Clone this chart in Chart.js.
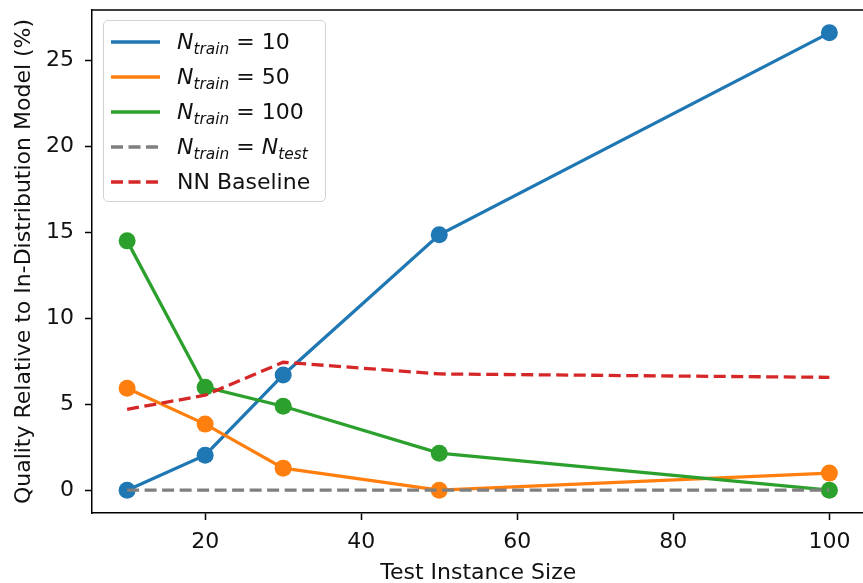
<!DOCTYPE html>
<html>
<head>
<meta charset="utf-8">
<script src="https://cdn.jsdelivr.net/npm/chart.js@4.4.1/dist/chart.umd.min.js"></script>
<style>
  body { margin: 0; background: #fff; overflow: hidden; width: 863px; height: 583px; }
  #chart { position: absolute; left: 0; top: 0; }
  #legend {
    position: absolute; left: 103px; top: 20px; width: 221px; height: 180px;
    border: 1.5px solid #d2d2d2; border-radius: 5px; background: rgba(255,255,255,0.85);
    font-family: "DejaVu Sans", sans-serif; font-size: 22px; color: #111;
  }
  .row { position: absolute; left: 0; height: 35px; display: flex; align-items: center; white-space: nowrap; }
  .row svg { margin-left: 7px; margin-right: 17px; }
  .row sub { font-size: 70%; line-height: 0; vertical-align: -0.35em; }
</style>
</head>
<body>
<canvas id="chart" width="873" height="583"></canvas>
<div id="legend"></div>
<script>
// data
const sizes = [10, 20, 30, 50, 100];
const train10 = [0, 2.03, 6.7, 14.85, 26.6];
const train50 = [5.93, 3.84, 1.28, 0, 0.99];
const train100 = [14.5, 5.99, 4.88, 2.15, 0];
const trainEqTest = [0, 0, 0, 0, 0];
const nnBaseline = [4.7, 5.52, 7.44, 6.76, 6.56];
const xTicks = [20, 40, 60, 80, 100];
const yTicks = [0, 5, 10, 15, 20, 25];

const FONT = "DejaVu Sans";
const nTrain = "<i>N</i><sub><i>train</i></sub>";

const series = [
  { label: "N_train = 10", html: nTrain + " = 10", values: train10, color: "#1f77b4", dash: [], marker: 8.5 },
  { label: "N_train = 50", html: nTrain + " = 50", values: train50, color: "#ff7f0e", dash: [], marker: 8.5 },
  { label: "N_train = 100", html: nTrain + " = 100", values: train100, color: "#2ca02c", dash: [], marker: 8.5 },
  { label: "N_train = N_test", html: nTrain + " = <i>N</i><sub><i>test</i></sub>", values: trainEqTest, color: "#7f7f7f", dash: [12, 5.5], marker: 0 },
  { label: "NN Baseline", html: "NN Baseline", values: nnBaseline, color: "#d62728", dash: [12, 5.5], marker: 0 }
];

// legend (html so the subscripts stay real text)
const legend = document.getElementById("legend");
series.forEach((s, i) => {
  const row = document.createElement("div");
  row.className = "row";
  row.style.top = (3 + i * 35) + "px";
  row.innerHTML =
    '<svg width="49" height="6"><line x1="0" y1="3" x2="49" y2="3" stroke="' + s.color +
    '" stroke-width="3.3" stroke-dasharray="' + (s.dash.length ? s.dash.join(",") : "none") + '"/></svg>' +
    "<span>" + s.html + "</span>";
  legend.appendChild(row);
});

// top spine (right one falls just outside the picture)
const topSpine = {
  id: "topSpine",
  afterDraw(chart) {
    const { ctx, chartArea } = chart;
    ctx.save();
    ctx.strokeStyle = "#000";
    ctx.lineWidth = 1.5;
    ctx.beginPath();
    ctx.moveTo(chartArea.left, chartArea.top);
    ctx.lineTo(chartArea.right, chartArea.top);
    ctx.stroke();
    ctx.restore();
  }
};

const axisCommon = {
  type: "linear",
  grid: { drawOnChartArea: false, drawTicks: true, tickLength: 7, tickColor: "#000", tickWidth: 1.5 },
  border: { display: true, color: "#000", width: 1.5 }
};

new Chart(document.getElementById("chart"), {
  type: "line",
  data: {
    datasets: series.map((s, i) => ({
      label: s.label,
      data: sizes.map((x, j) => ({ x: x, y: s.values[j] })),
      borderColor: s.color,
      backgroundColor: s.color,
      borderWidth: 3.3,
      borderDash: s.dash,
      pointRadius: s.marker,
      pointBorderWidth: 0,
      pointBackgroundColor: s.color,
      tension: 0,
      fill: false,
      order: series.length - i
    }))
  },
  options: {
    responsive: false,
    animation: false,
    events: [],
    layout: { padding: { top: 10, right: 1, left: 0, bottom: 0 } },
    plugins: { legend: { display: false }, tooltip: { enabled: false } },
    scales: {
      x: {
        ...axisCommon,
        min: 5.5,
        max: 104.5,
        afterBuildTicks: s => { s.ticks = xTicks.map(v => ({ value: v })); },
        afterFit: s => { s.height = 70; s.paddingLeft = 0; s.paddingRight = 0; },
        ticks: { font: { family: FONT, size: 22 }, color: "#111", padding: 9, maxRotation: 0 },
        title: { display: true, text: "Test Instance Size", font: { family: FONT, size: 22 }, color: "#111", padding: { top: 8, bottom: -3 } }
      },
      y: {
        ...axisCommon,
        min: -1.33,
        max: 27.93,
        afterBuildTicks: s => { s.ticks = yTicks.map(v => ({ value: v })); },
        afterFit: s => { s.width = 92; s.paddingTop = 0; s.paddingBottom = 0; },
        ticks: { font: { family: FONT, size: 22 }, color: "#111", padding: 11 },
        title: { display: true, text: "Quality Relative to In-Distribution Model (%)", font: { family: FONT, size: 22 }, color: "#111", padding: { top: 11, bottom: 0 } }
      }
    }
  },
  plugins: [topSpine]
});
</script>
</body>
</html>
